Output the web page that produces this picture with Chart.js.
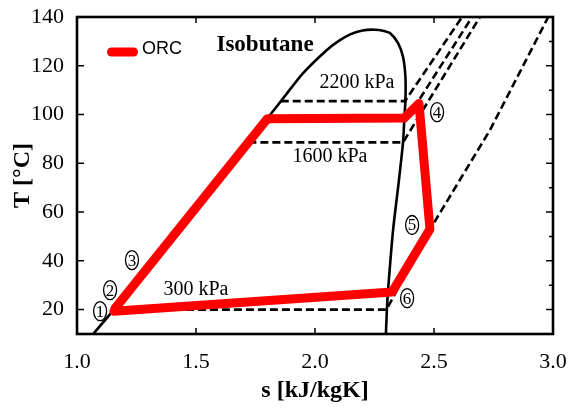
<!DOCTYPE html>
<html>
<head>
<meta charset="utf-8">
<script src="https://cdn.jsdelivr.net/npm/chart.js@4.4.1/dist/chart.umd.min.js"></script>
<style>
  html, body { margin: 0; padding: 0; background: #fff; }
</style>
</head>
<body>
<canvas id="chart" width="568" height="409"></canvas>
<script>
// axis ticks
const xTicks = [1.0, 1.5, 2.0, 2.5, 3.0];
const yTicks = [20, 40, 60, 80, 100, 120, 140];

// saturation dome of isobutane (s in kJ/kgK, T in degC)
const domeS = [1.068, 1.155, 1.32, 1.485, 1.65, 1.811, 1.861, 1.95, 2.05, 2.10, 2.15, 2.20, 2.25, 2.29, 2.315, 2.349, 2.37, 2.38, 2.38, 2.375, 2.37, 2.349, 2.328, 2.307, 2.302, 2.298];
const domeT = [10, 20, 40, 60, 80, 99.8, 106, 117, 126.5, 130.2, 133.0, 134.5, 134.8, 134.3, 133.4, 129.3, 123.6, 115.4, 106, 97.7, 88.7, 70, 52.6, 28, 19.8, 10];

// isobars
const p300S = [1.155, 2.30, 2.49, 2.735, 2.98];
const p300T = [20, 20, 54, 93.6, 140];
const p1600S = [1.72, 2.37, 2.693];
const p1600T = [88.6, 88.6, 140];
const p2200S = [1.856, 2.378, 2.618];
const p2200T = [105.5, 105.5, 140];
const pCycleS = [2.38, 2.44, 2.66];
const pCycleT = [98.6, 106.4, 140];

// ORC cycle states 1-2-3-3'-4-5-6-1
const orcS = [1.155, 1.16, 1.80, 2.375, 2.437, 2.483, 2.324, 1.155];
const orcT = [19.3, 20.5, 98.3, 98.6, 104.5, 53, 27.2, 19.3];

// text annotations
const noteText = ["Isobutane", "2200 kPa", "1600 kPa", "300 kPa"];
const noteS = [1.79, 2.176, 2.063, 1.50];
const noteT = [128.5, 112.9, 82.6, 28.0];

const stateNum = ["1", "2", "3", "4", "5", "6"];
const stateS = [1.097, 1.139, 1.231, 2.513, 2.408, 2.387];
const stateT = [19.4, 28.0, 40.3, 101.0, 54.7, 24.7];

const serif = "'Liberation Serif', 'Times New Roman', serif";
const sans = "'Liberation Sans', Arial, sans-serif";
const red = "#ff0000";

function pts(sArr, tArr) {
  return sArr.map((s, i) => ({ x: s, y: tArr[i] }));
}

function lineSet(label, sArr, tArr, color, width, dash) {
  return {
    label: label,
    data: pts(sArr, tArr),
    showLine: true,
    borderColor: color,
    backgroundColor: color,
    borderWidth: width,
    borderDash: dash || [],
    pointRadius: 0,
    pointHoverRadius: 0,
    tension: 0,
  };
}

// frame + inside ticks, like the original plot
const framePlugin = {
  id: "frame",
  afterDatasetsDraw(chart) {
    const ctx = chart.ctx;
    const a = chart.chartArea;
    const xs = chart.scales.x;
    const ys = chart.scales.y;
    ctx.save();
    ctx.strokeStyle = "#000";
    ctx.lineWidth = 1.5;
    ctx.beginPath();
    xTicks.slice(1, -1).forEach((v) => {
      const px = xs.getPixelForValue(v);
      ctx.moveTo(px, a.bottom);
      ctx.lineTo(px, a.bottom - 6);
      ctx.moveTo(px, a.top);
      ctx.lineTo(px, a.top + 6);
    });
    yTicks.slice(0, -1).forEach((v) => {
      const py = ys.getPixelForValue(v);
      ctx.moveTo(a.left, py);
      ctx.lineTo(a.left + 7, py);
    });
    for (let v = 20; v < 140; v += 10) {
      const py = ys.getPixelForValue(v);
      ctx.moveTo(a.right, py);
      ctx.lineTo(a.right - (v % 20 === 0 ? 7 : 4), py);
    }
    ctx.stroke();
    ctx.lineWidth = 2.6;
    ctx.strokeRect(a.left, a.top, a.right - a.left, a.bottom - a.top);
    ctx.restore();
  },
};

const notesPlugin = {
  id: "notes",
  afterDatasetsDraw(chart) {
    const ctx = chart.ctx;
    const xs = chart.scales.x;
    const ys = chart.scales.y;
    const a = chart.chartArea;
    ctx.save();
    ctx.fillStyle = "#000";
    ctx.textAlign = "center";
    ctx.textBaseline = "middle";
    noteText.forEach((t, i) => {
      ctx.font = i === 0 ? "bold 23px " + serif : "20px " + serif;
      ctx.fillText(t, xs.getPixelForValue(noteS[i]), ys.getPixelForValue(noteT[i]));
    });
    ctx.lineWidth = 1.3;
    ctx.strokeStyle = "#000";
    ctx.font = "17px " + serif;
    stateNum.forEach((n, i) => {
      const px = xs.getPixelForValue(stateS[i]);
      const py = ys.getPixelForValue(stateT[i]);
      ctx.beginPath();
      ctx.ellipse(px, py, 6.5, 9.5, 0, 0, Math.PI * 2);
      ctx.stroke();
      ctx.fillText(n, px, py + 1);
    });

    // legend
    const lx = a.left + 30;
    const ly = a.top + 35;
    ctx.fillStyle = red;
    ctx.beginPath();
    ctx.roundRect(lx, ly - 4.5, 31, 9, 4.5);
    ctx.fill();
    ctx.fillStyle = "#000";
    ctx.textAlign = "left";
    ctx.font = "18px " + sans;
    ctx.fillText(chart.data.datasets[0].label, lx + 35, ly - 3);
    ctx.restore();
  },
};

new Chart(document.getElementById("chart"), {
  type: "scatter",
  data: {
    datasets: [
      Object.assign(lineSet("ORC", orcS, orcT, red, 9), {
        borderJoinStyle: "round",
        borderCapStyle: "round",
      }),
      Object.assign(lineSet("Saturation", domeS, domeT, "#000", 2.6), { tension: 0.25 }),
      lineSet("300 kPa", p300S, p300T, "#000", 2.6, [8, 4]),
      lineSet("1600 kPa", p1600S, p1600T, "#000", 2.6, [8, 4]),
      lineSet("2200 kPa", p2200S, p2200T, "#000", 2.6, [8, 4]),
      lineSet("Cycle pressure", pCycleS, pCycleT, "#000", 2.6, [8, 4]),
    ],
  },
  options: {
    responsive: false,
    animation: false,
    layout: { padding: { top: 17, right: 15, left: 0, bottom: 0 } },
    plugins: {
      tooltip: { enabled: false },
      legend: { display: false },
    },
    scales: {
      x: {
        type: "linear",
        min: 1,
        max: 3,
        afterBuildTicks: (s) => { s.ticks = xTicks.map((v) => ({ value: v })); },
        afterFit: (s) => {
          s.height = 75;
          s.paddingLeft = 0;
          s.paddingRight = 0;
        },
        grid: { display: false },
        border: { display: false },
        ticks: {
          color: "#000",
          padding: 7,
          maxRotation: 0,
          font: { family: serif, size: 22 },
          callback: (v) => Number(v).toFixed(1),
        },
        title: {
          display: true,
          text: "s [kJ/kgK]",
          color: "#000",
          font: { family: serif, size: 24, weight: "bold" },
        },
      },
      y: {
        type: "linear",
        min: 10,
        max: 140,
        afterBuildTicks: (s) => { s.ticks = yTicks.map((v) => ({ value: v })); },
        afterFit: (s) => {
          s.width = 77;
          s.paddingTop = 0;
          s.paddingBottom = 0;
        },
        grid: { display: false },
        border: { display: false },
        ticks: {
          color: "#000",
          padding: 5,
          font: { family: serif, size: 22 },
        },
        title: {
          display: true,
          text: "T [°C]",
          color: "#000",
          font: { family: serif, size: 24, weight: "bold", lineHeight: 1.6 },
        },
      },
    },
  },
  plugins: [framePlugin, notesPlugin],
});
</script>
</body>
</html>
